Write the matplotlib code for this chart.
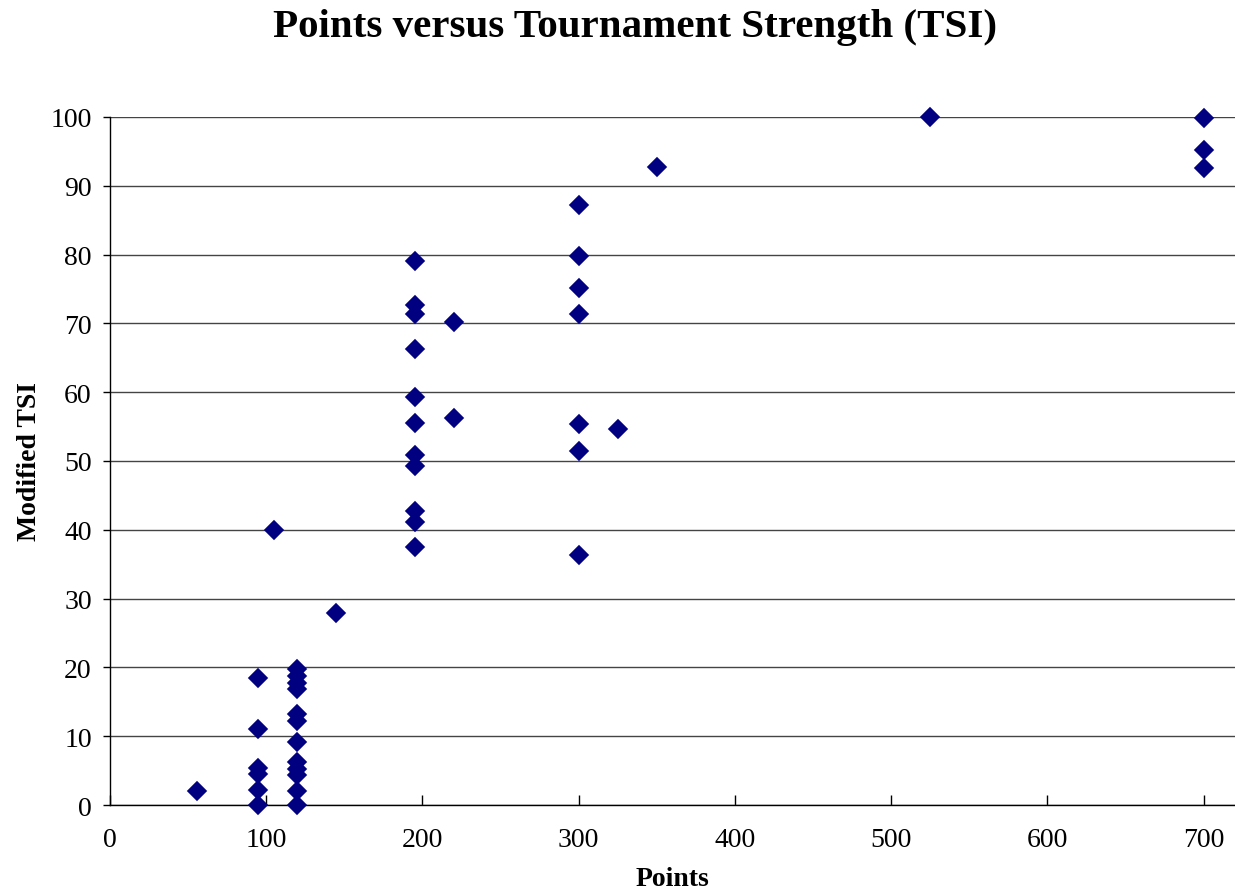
"""
Points versus Tournament Strength (TSI) - scatter of modified TSI against points.

Outputs:
  out.png
"""
import matplotlib

matplotlib.use("Agg")
import matplotlib.pyplot as plt

# points awarded for each tournament
points = [
    56,
    95, 95, 95, 95, 95, 95,
    105,
    120, 120, 120, 120, 120, 120, 120, 120, 120, 120, 120, 120,
    145,
    195, 195, 195, 195, 195, 195, 195, 195, 195, 195, 195,
    220, 220,
    300, 300, 300, 300, 300, 300, 300,
    325,
    350,
    525,
    700, 700, 700,
]
# modified tournament strength index
tsi = [
    2.1,
    18.5, 11.0, 5.4, 4.5, 2.2, 0.0,
    39.9,
    19.8, 18.8, 17.8, 16.9, 13.3, 12.2, 9.1, 6.2, 5.2, 4.3, 2.1, 0.0,
    27.9,
    79.0, 72.6, 71.4, 66.3, 59.3, 55.5, 50.9, 49.3, 42.8, 41.1, 37.5,
    70.2, 56.3,
    87.2, 79.8, 75.1, 71.4, 55.4, 51.5, 36.4,
    54.6,
    92.7,
    100.0,
    99.8, 95.2, 92.6,
]

x_ticks = list(range(0, 701, 100))
y_ticks = list(range(0, 101, 10))

plt.rcParams["font.family"] = ["Liberation Serif", "DejaVu Serif"]

fig = plt.figure(figsize=(12.35, 8.95), dpi=100)
ax = fig.add_axes([0.089, 0.0994, 0.911, 0.7688])

ax.plot(points, tsi, ls="none", marker="D", ms=9.0, color="#000080",
        markeredgecolor="#000080", markeredgewidth=1.2, clip_on=False, zorder=3)

ax.set_xlim(0, 720)
ax.set_ylim(0, 100)
ax.set_xticks(x_ticks)
ax.set_yticks(y_ticks)
ax.tick_params(axis="both", labelsize=20, colors="black", width=1)
ax.tick_params(axis="x", direction="in", length=7, pad=16)
ax.tick_params(axis="y", direction="out", length=5, pad=8)
ax.yaxis.grid(True, color="#444444", lw=1.0)
ax.set_axisbelow(True)
for side in ("top", "right"):
    ax.spines[side].set_visible(False)
for side in ("left", "bottom"):
    ax.spines[side].set_color("black")
    ax.spines[side].set_linewidth(1.0)

ax.set_xlabel("Points", fontsize=20, fontweight="bold", labelpad=10)
ax.set_ylabel("Modified TSI", fontsize=20, fontweight="bold", labelpad=6)
fig.suptitle("Points versus Tournament Strength (TSI)", fontsize=29.5,
             fontweight="bold", x=0.514, y=0.99)

fig.savefig("out.png", dpi=100)
plt.close(fig)
